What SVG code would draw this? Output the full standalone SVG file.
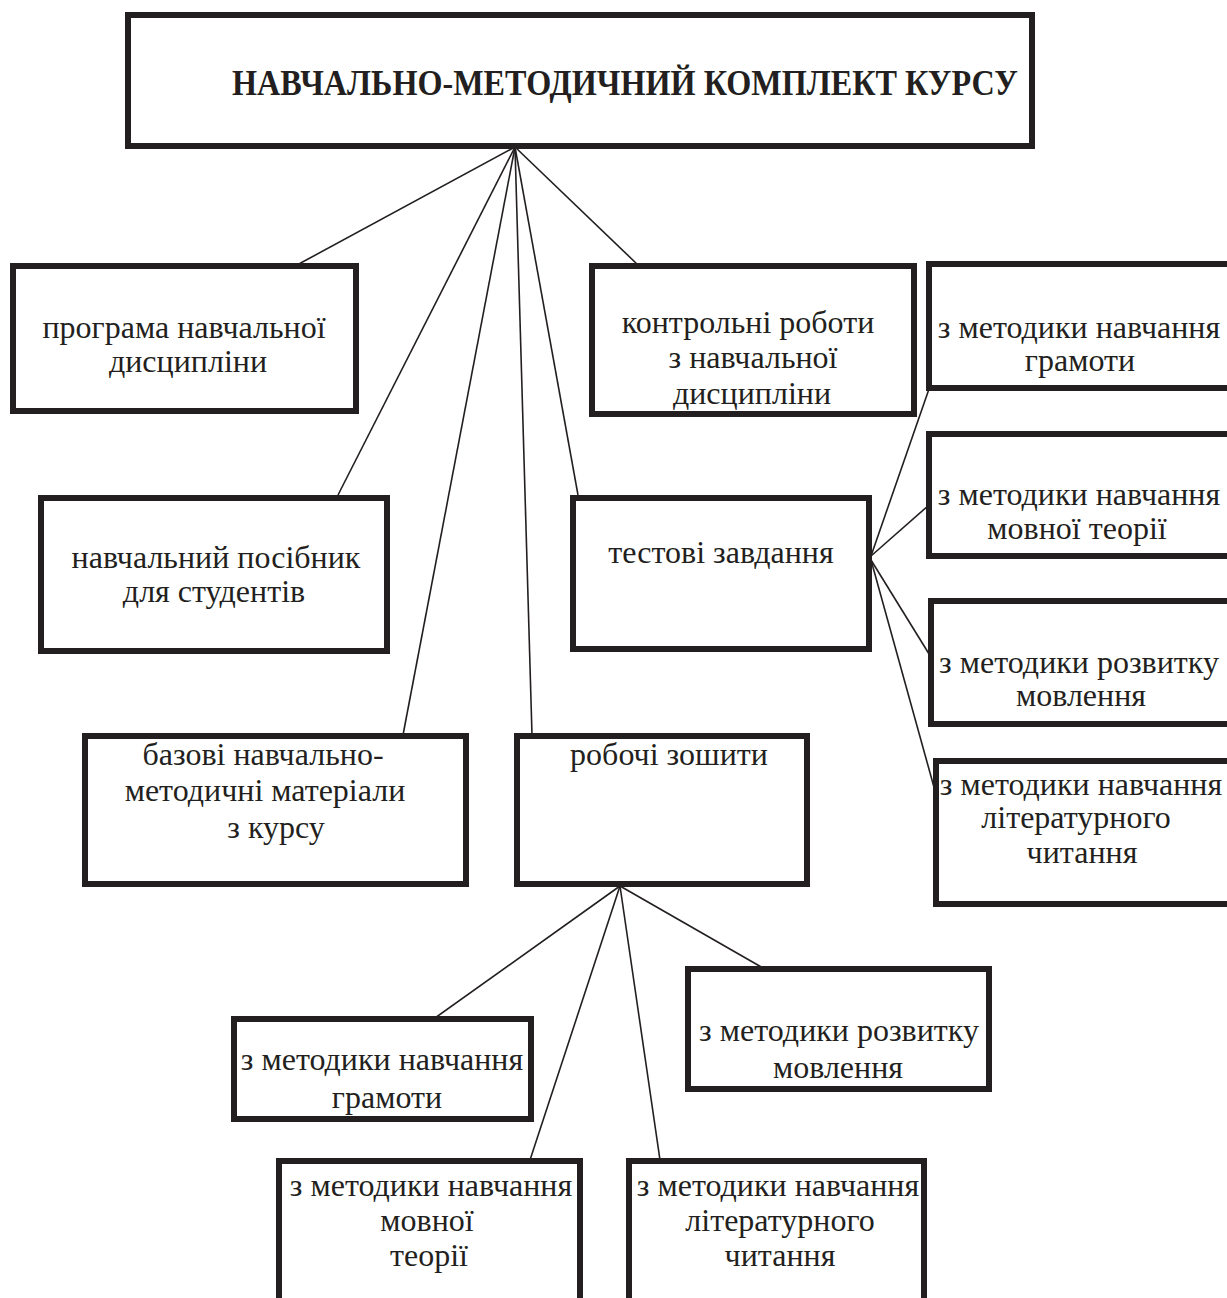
<svg xmlns="http://www.w3.org/2000/svg" width="1227" height="1298" viewBox="0 0 1227 1298">
<style>
.box{fill:#fff;stroke:#231f20;stroke-width:6}
.t{font-family:"Liberation Serif","Times New Roman",serif;font-size:32px;fill:#231f20;text-anchor:middle}
.h{font-family:"Liberation Serif","Times New Roman",serif;font-size:35px;font-weight:bold;fill:#231f20;text-anchor:middle}
.c{stroke:#231f20;stroke-width:1.6;fill:none}
</style>
<rect width="1227" height="1298" fill="#fff"/>
<g id="connectors">
<line class="c" x1="515" y1="147" x2="297" y2="265"/>
<line class="c" x1="515" y1="147" x2="338" y2="495"/>
<line class="c" x1="515" y1="147" x2="403" y2="735"/>
<line class="c" x1="515" y1="147" x2="532" y2="735"/>
<line class="c" x1="515" y1="147" x2="578" y2="495"/>
<line class="c" x1="515" y1="147" x2="638" y2="265"/>
<line class="c" x1="871" y1="556" x2="929" y2="389"/>
<line class="c" x1="871" y1="556" x2="929" y2="505"/>
<line class="c" x1="871" y1="560" x2="934" y2="662"/>
<line class="c" x1="871" y1="560" x2="937" y2="798"/>
<line class="c" x1="620" y1="886" x2="435" y2="1018"/>
<line class="c" x1="620" y1="886" x2="763" y2="968"/>
<line class="c" x1="620" y1="886" x2="530" y2="1160"/>
<line class="c" x1="620" y1="886" x2="660" y2="1160"/>
</g>
<g id="n-top"><rect class="box" x="128" y="15" width="904" height="131"/>
<text class="h" x="625" y="95" textLength="786" lengthAdjust="spacingAndGlyphs">НАВЧАЛЬНО-МЕТОДИЧНИЙ КОМПЛЕКТ КУРСУ</text></g>
<g id="n-programa"><rect class="box" x="13" y="266" width="343" height="145"/>
<text class="t" x="184" y="338">програма навчальної</text><text class="t" x="188" y="372">дисципліни</text></g>
<g id="n-kontrolni"><rect class="box" x="592" y="266" width="322" height="148"/>
<text class="t" x="748" y="333">контрольні роботи</text><text class="t" x="753" y="368">з навчальної</text><text class="t" x="752" y="404">дисципліни</text></g>
<g id="n-r-gramoty"><rect class="box" x="929" y="264" width="310" height="124"/>
<text class="t" x="1079" y="338">з методики навчання</text><text class="t" x="1080" y="371">грамоти</text></g>
<g id="n-posibnyk"><rect class="box" x="41" y="498" width="346" height="153"/>
<text class="t" x="216" y="568">навчальний посібник</text><text class="t" x="214" y="602">для студентів</text></g>
<g id="n-testovi"><rect class="box" x="573" y="498" width="296" height="151"/>
<text class="t" x="721" y="563">тестові завдання</text></g>
<g id="n-r-movnoi"><rect class="box" x="929" y="434" width="310" height="122"/>
<text class="t" x="1079" y="505">з методики навчання</text><text class="t" x="1077" y="539">мовної теорії</text></g>
<g id="n-r-rozvytku"><rect class="box" x="931" y="601" width="310" height="123"/>
<text class="t" x="1079" y="673">з методики розвитку</text><text class="t" x="1081" y="706">мовлення</text></g>
<g id="n-r-literaturnoho"><rect class="box" x="936" y="761" width="305" height="143"/>
<text class="t" x="1081" y="795">з методики навчання</text><text class="t" x="1076" y="828">літературного</text><text class="t" x="1082" y="863">читання</text></g>
<g id="n-bazovi"><rect class="box" x="85" y="736" width="381" height="148"/>
<text class="t" x="263" y="765">базові навчально-</text><text class="t" x="265" y="801">методичні матеріали</text><text class="t" x="276" y="838">з курсу</text></g>
<g id="n-robochi"><rect class="box" x="517" y="736" width="290" height="148"/>
<text class="t" x="669" y="765">робочі зошити</text></g>
<g id="n-b-gramoty"><rect class="box" x="234" y="1019" width="297" height="100"/>
<text class="t" x="382" y="1070">з методики навчання</text><text class="t" x="387" y="1108">грамоти</text></g>
<g id="n-b-rozvytku"><rect class="box" x="688" y="969" width="301" height="120"/>
<text class="t" x="839" y="1041">з методики розвитку</text><text class="t" x="838" y="1078">мовлення</text></g>
<g id="n-b-movnoi"><rect class="box" x="279" y="1161" width="301" height="150"/>
<text class="t" x="431" y="1196">з методики навчання</text><text class="t" x="427" y="1231">мовної</text><text class="t" x="429" y="1266">теорії</text></g>
<g id="n-b-literaturnoho"><rect class="box" x="629" y="1161" width="295" height="150"/>
<text class="t" x="778" y="1196">з методики навчання</text><text class="t" x="780" y="1231">літературного</text><text class="t" x="780" y="1266">читання</text></g>
</svg>
